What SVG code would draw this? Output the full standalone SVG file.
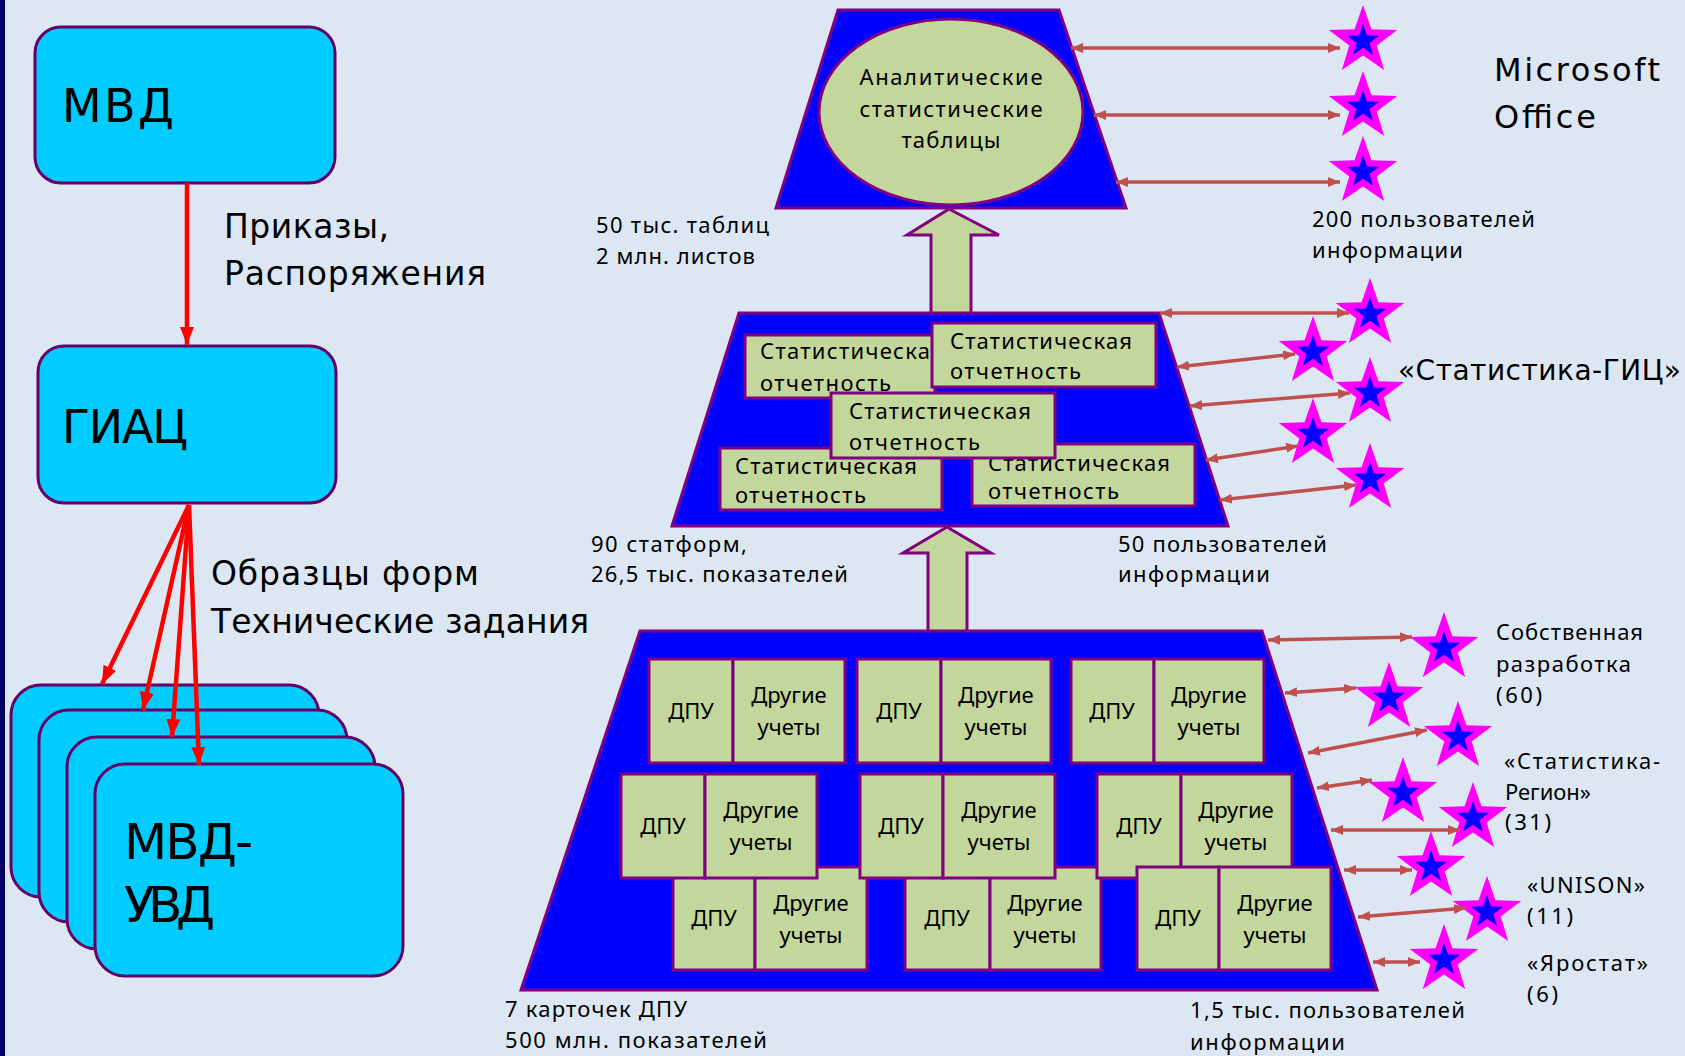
<svg xmlns="http://www.w3.org/2000/svg" width="1685" height="1056" viewBox="0 0 1685 1056">
<style>
.cyan{fill:#00CCFF;stroke:#660066;stroke-width:3}
.trap{fill:#0000FF;stroke:#800080;stroke-width:3}
.olive{fill:#C3D69B;stroke:#800080;stroke-width:3}
.red{stroke:#FF0000;stroke-width:4.5;fill:none}
.brown{stroke:#C0504D;stroke-width:3.5;fill:none}
.big{font-family:"DejaVu Sans",Verdana,sans-serif;fill:#000}
.sm{font-family:"Noto Sans","Open Sans",sans-serif;fill:#000;font-size:22px}
.bx{font-family:"Noto Sans","Open Sans",sans-serif;fill:#000;font-size:22px}
.star{fill:#FF00FF}
.istar{fill:#0000FF}
</style>
<defs>
<marker id="ah-red" viewBox="0 0 18 14" refX="18" refY="7" markerWidth="18" markerHeight="14" markerUnits="userSpaceOnUse" orient="auto"><path d="M0,0 L18,7 L0,14 z" fill="#FF0000"/></marker>
<marker id="ah-br" viewBox="0 0 12 10" refX="12" refY="5" markerWidth="12" markerHeight="10" markerUnits="userSpaceOnUse" orient="auto-start-reverse"><path d="M0,0 L12,5 L0,10 z" fill="#C0504D"/></marker>
<path id="star" d="M0,-36 L8.46,-11.65 L34.24,-11.12 L13.70,4.45 L21.16,29.12 L0,14.4 L-21.16,29.12 L-13.70,4.45 L-34.24,-11.12 L-8.46,-11.65 Z"/>
</defs>
<rect x="0" y="0" width="1685" height="1056" fill="#DCE7F3"/>
<rect x="0" y="0" width="5" height="1056" fill="#000066"/>

<g id="label-prikazy" class="big" font-size="33">
<text x="224" y="238" textLength="165">Приказы,</text>
<text x="224" y="285" textLength="262">Распоряжения</text>
</g>
<g id="label-obrazcy" class="big" font-size="33">
<text x="211" y="585" textLength="268">Образцы форм</text>
<text x="211" y="633" textLength="378">Технические задания</text>
</g>

<g id="node-mvd">
<rect class="cyan" x="35" y="27" width="300" height="156" rx="26"/>
<text class="big" x="62" y="122" font-size="46" textLength="112">МВД</text>
</g>
<g id="node-giac">
<rect class="cyan" x="38" y="346" width="298" height="157" rx="26"/>
<text class="big" x="62" y="443" font-size="46" textLength="126">ГИАЦ</text>
</g>
<g id="node-mvd-uvd">
<rect class="cyan" x="11" y="685" width="308" height="212" rx="30"/>
<rect class="cyan" x="39" y="710" width="308" height="212" rx="30"/>
<rect class="cyan" x="67" y="737" width="308" height="212" rx="30"/>
<rect class="cyan" x="95" y="764" width="308" height="212" rx="30"/>
<text class="big" x="124" y="859" font-size="50" textLength="129">МВД-</text>
<text class="big" x="124" y="922" font-size="50" textLength="91">УВД</text>
</g>

<g id="node-top">
<polygon class="trap" points="838,10 1059,10 1126,208 776,208"/>
<ellipse class="olive" cx="951" cy="112" rx="132" ry="93"/>
<g class="bx" text-anchor="middle">
<text x="951" y="85" textLength="183">Аналитические</text>
<text x="951" y="117" textLength="183">статистические</text>
<text x="951" y="148" textLength="99">таблицы</text>
</g>
</g>
<g id="arrow-up-1">
<polygon class="olive" points="949,209 999,235 971,235 971,314 931,314 931,235 907,235"/>
</g>

<g id="node-middle">
<polygon class="trap" points="739,313 1159,313 1228,526 672,526"/>
<rect class="olive" x="745" y="335" width="190" height="63"/>
<text class="bx" x="760" y="359" textLength="170">Статистическа</text>
<text class="bx" x="760" y="391" textLength="131">отчетность</text>
<rect class="olive" x="932" y="323" width="224" height="64"/>
<text class="bx" x="950" y="349" textLength="182">Статистическая</text>
<text class="bx" x="950" y="379" textLength="131">отчетность</text>
<rect class="olive" x="720" y="448" width="222" height="62"/>
<text class="bx" x="735" y="474" textLength="182">Статистическая</text>
<text class="bx" x="735" y="503" textLength="131">отчетность</text>
<rect class="olive" x="972" y="444" width="223" height="62"/>
<text class="bx" x="988" y="471" textLength="182">Статистическая</text>
<text class="bx" x="988" y="499" textLength="131">отчетность</text>
<rect class="olive" x="831" y="393" width="224" height="65"/>
<text class="bx" x="849" y="419" textLength="182">Статистическая</text>
<text class="bx" x="849" y="450" textLength="131">отчетность</text>
</g>
<g id="arrow-up-2">
<polygon class="olive" points="947,527 991,553 967,553 967,632 928,632 928,553 903,553"/>
</g>

<g id="node-bottom">
<polygon class="trap" points="640,631 1262,631 1377,990 521,990"/>
<g class="bx" font-size="23">
<rect class="olive" x="673" y="867" width="82" height="103"/>
<rect class="olive" x="755" y="867" width="112" height="103"/>
<text x="714" y="926" text-anchor="middle">ДПУ</text>
<text x="811" y="911" text-anchor="middle">Другие</text>
<text x="811" y="943" text-anchor="middle">учеты</text>
<rect class="olive" x="905" y="867" width="85" height="103"/>
<rect class="olive" x="990" y="867" width="111" height="103"/>
<text x="947" y="926" text-anchor="middle">ДПУ</text>
<text x="1045" y="911" text-anchor="middle">Другие</text>
<text x="1045" y="943" text-anchor="middle">учеты</text>
<rect class="olive" x="621" y="774" width="84" height="104"/>
<rect class="olive" x="705" y="774" width="112" height="104"/>
<text x="663" y="834" text-anchor="middle">ДПУ</text>
<text x="761" y="818" text-anchor="middle">Другие</text>
<text x="761" y="850" text-anchor="middle">учеты</text>
<rect class="olive" x="860" y="774" width="83" height="104"/>
<rect class="olive" x="943" y="774" width="112" height="104"/>
<text x="901" y="834" text-anchor="middle">ДПУ</text>
<text x="999" y="818" text-anchor="middle">Другие</text>
<text x="999" y="850" text-anchor="middle">учеты</text>
<rect class="olive" x="1097" y="774" width="84" height="104"/>
<rect class="olive" x="1181" y="774" width="111" height="104"/>
<text x="1139" y="834" text-anchor="middle">ДПУ</text>
<text x="1236" y="818" text-anchor="middle">Другие</text>
<text x="1236" y="850" text-anchor="middle">учеты</text>
<rect class="olive" x="1137" y="867" width="82" height="103"/>
<rect class="olive" x="1219" y="867" width="112" height="103"/>
<text x="1178" y="926" text-anchor="middle">ДПУ</text>
<text x="1275" y="911" text-anchor="middle">Другие</text>
<text x="1275" y="943" text-anchor="middle">учеты</text>
<rect class="olive" x="649" y="659" width="84" height="104"/>
<rect class="olive" x="733" y="659" width="112" height="104"/>
<text x="691" y="719" text-anchor="middle">ДПУ</text>
<text x="789" y="703" text-anchor="middle">Другие</text>
<text x="789" y="735" text-anchor="middle">учеты</text>
<rect class="olive" x="857" y="659" width="84" height="104"/>
<rect class="olive" x="941" y="659" width="110" height="104"/>
<text x="899" y="719" text-anchor="middle">ДПУ</text>
<text x="996" y="703" text-anchor="middle">Другие</text>
<text x="996" y="735" text-anchor="middle">учеты</text>
<rect class="olive" x="1071" y="659" width="83" height="104"/>
<rect class="olive" x="1154" y="659" width="110" height="104"/>
<text x="1112" y="719" text-anchor="middle">ДПУ</text>
<text x="1209" y="703" text-anchor="middle">Другие</text>
<text x="1209" y="735" text-anchor="middle">учеты</text>
</g>
</g>

<g id="stars">
<use href="#star" class="star" transform="translate(1363,41)"/><use href="#star" class="istar" transform="translate(1363,41) scale(0.47)"/>
<use href="#star" class="star" transform="translate(1363,107)"/><use href="#star" class="istar" transform="translate(1363,107) scale(0.47)"/>
<use href="#star" class="star" transform="translate(1363,172)"/><use href="#star" class="istar" transform="translate(1363,172) scale(0.47)"/>
<use href="#star" class="star" transform="translate(1370,314)"/><use href="#star" class="istar" transform="translate(1370,314) scale(0.47)"/>
<use href="#star" class="star" transform="translate(1313,352)"/><use href="#star" class="istar" transform="translate(1313,352) scale(0.47)"/>
<use href="#star" class="star" transform="translate(1370,393)"/><use href="#star" class="istar" transform="translate(1370,393) scale(0.47)"/>
<use href="#star" class="star" transform="translate(1313,434)"/><use href="#star" class="istar" transform="translate(1313,434) scale(0.47)"/>
<use href="#star" class="star" transform="translate(1370,479)"/><use href="#star" class="istar" transform="translate(1370,479) scale(0.47)"/>
<use href="#star" class="star" transform="translate(1444,648)"/><use href="#star" class="istar" transform="translate(1444,648) scale(0.47)"/>
<use href="#star" class="star" transform="translate(1389,698)"/><use href="#star" class="istar" transform="translate(1389,698) scale(0.47)"/>
<use href="#star" class="star" transform="translate(1458,737)"/><use href="#star" class="istar" transform="translate(1458,737) scale(0.47)"/>
<use href="#star" class="star" transform="translate(1403,793)"/><use href="#star" class="istar" transform="translate(1403,793) scale(0.47)"/>
<use href="#star" class="star" transform="translate(1473,818)"/><use href="#star" class="istar" transform="translate(1473,818) scale(0.47)"/>
<use href="#star" class="star" transform="translate(1431,867)"/><use href="#star" class="istar" transform="translate(1431,867) scale(0.47)"/>
<use href="#star" class="star" transform="translate(1487,912)"/><use href="#star" class="istar" transform="translate(1487,912) scale(0.47)"/>
<use href="#star" class="star" transform="translate(1444,960)"/><use href="#star" class="istar" transform="translate(1444,960) scale(0.47)"/>
</g>

<g id="connectors">
<line class="red" x1="187" y1="183" x2="187" y2="345" marker-end="url(#ah-red)"/>
<line class="red" x1="189" y1="505" x2="102" y2="684" marker-end="url(#ah-red)"/>
<line class="red" x1="189" y1="505" x2="143" y2="710" marker-end="url(#ah-red)"/>
<line class="red" x1="189" y1="505" x2="172" y2="737" marker-end="url(#ah-red)"/>
<line class="red" x1="189" y1="505" x2="199" y2="765" marker-end="url(#ah-red)"/>
<line class="brown" x1="1071" y1="48" x2="1340" y2="48" marker-start="url(#ah-br)" marker-end="url(#ah-br)"/>
<line class="brown" x1="1094" y1="115" x2="1340" y2="115" marker-start="url(#ah-br)" marker-end="url(#ah-br)"/>
<line class="brown" x1="1116" y1="182" x2="1340" y2="182" marker-start="url(#ah-br)" marker-end="url(#ah-br)"/>
<line class="brown" x1="1160" y1="313" x2="1349" y2="313" marker-start="url(#ah-br)" marker-end="url(#ah-br)"/>
<line class="brown" x1="1177" y1="367" x2="1295" y2="354" marker-start="url(#ah-br)" marker-end="url(#ah-br)"/>
<line class="brown" x1="1190" y1="406" x2="1350" y2="393" marker-start="url(#ah-br)" marker-end="url(#ah-br)"/>
<line class="brown" x1="1206" y1="460" x2="1298" y2="446" marker-start="url(#ah-br)" marker-end="url(#ah-br)"/>
<line class="brown" x1="1220" y1="500" x2="1356" y2="485" marker-start="url(#ah-br)" marker-end="url(#ah-br)"/>
<line class="brown" x1="1268" y1="640" x2="1412" y2="637" marker-start="url(#ah-br)" marker-end="url(#ah-br)"/>
<line class="brown" x1="1285" y1="693" x2="1356" y2="688" marker-start="url(#ah-br)" marker-end="url(#ah-br)"/>
<line class="brown" x1="1308" y1="753" x2="1427" y2="730" marker-start="url(#ah-br)" marker-end="url(#ah-br)"/>
<line class="brown" x1="1317" y1="788" x2="1372" y2="780" marker-start="url(#ah-br)" marker-end="url(#ah-br)"/>
<line class="brown" x1="1331" y1="830" x2="1460" y2="830" marker-start="url(#ah-br)" marker-end="url(#ah-br)"/>
<line class="brown" x1="1344" y1="870" x2="1412" y2="870" marker-start="url(#ah-br)" marker-end="url(#ah-br)"/>
<line class="brown" x1="1358" y1="917" x2="1466" y2="908" marker-start="url(#ah-br)" marker-end="url(#ah-br)"/>
<line class="brown" x1="1373" y1="962" x2="1420" y2="962" marker-start="url(#ah-br)" marker-end="url(#ah-br)"/>
</g>

<g id="labels">
<text class="big" x="1494" y="81" font-size="32" textLength="166">Microsoft</text>
<text class="big" x="1494" y="128" font-size="32" textLength="102">Office</text>
<text class="big" x="1398" y="380" font-size="28" textLength="283">«Статистика-ГИЦ»</text>
<text class="sm" x="596" y="233" textLength="173">50 тыс. таблиц</text>
<text class="sm" x="596" y="264" textLength="159">2 млн. листов</text>
<text class="sm" x="1312" y="227" textLength="223">200 пользователей</text>
<text class="sm" x="1312" y="258" textLength="151">информации</text>
<text class="sm" x="591" y="552" textLength="156">90 статформ,</text>
<text class="sm" x="591" y="582" textLength="257">26,5 тыс. показателей</text>
<text class="sm" x="1118" y="552" textLength="209">50 пользователей</text>
<text class="sm" x="1118" y="582" textLength="152">информации</text>
<text class="sm" x="505" y="1017" textLength="182">7 карточек ДПУ</text>
<text class="sm" x="505" y="1048" textLength="262">500 млн. показателей</text>
<text class="sm" x="1190" y="1018" textLength="275">1,5 тыс. пользователей</text>
<text class="sm" x="1190" y="1050" textLength="155">информации</text>
<text class="sm" x="1496" y="640" textLength="147">Собственная</text>
<text class="sm" x="1496" y="672" textLength="135">разработка</text>
<text class="sm" x="1496" y="703" textLength="46">(60)</text>
<text class="sm" x="1504" y="769" textLength="156">«Статистика-</text>
<text class="sm" x="1505" y="800" textLength="86">Регион»</text>
<text class="sm" x="1505" y="830" textLength="46">(31)</text>
<text class="sm" x="1527" y="893" textLength="118">«UNISON»</text>
<text class="sm" x="1527" y="924" textLength="46">(11)</text>
<text class="sm" x="1527" y="971" textLength="121">«Яростат»</text>
<text class="sm" x="1527" y="1002" textLength="31">(6)</text>
</g>
</svg>
